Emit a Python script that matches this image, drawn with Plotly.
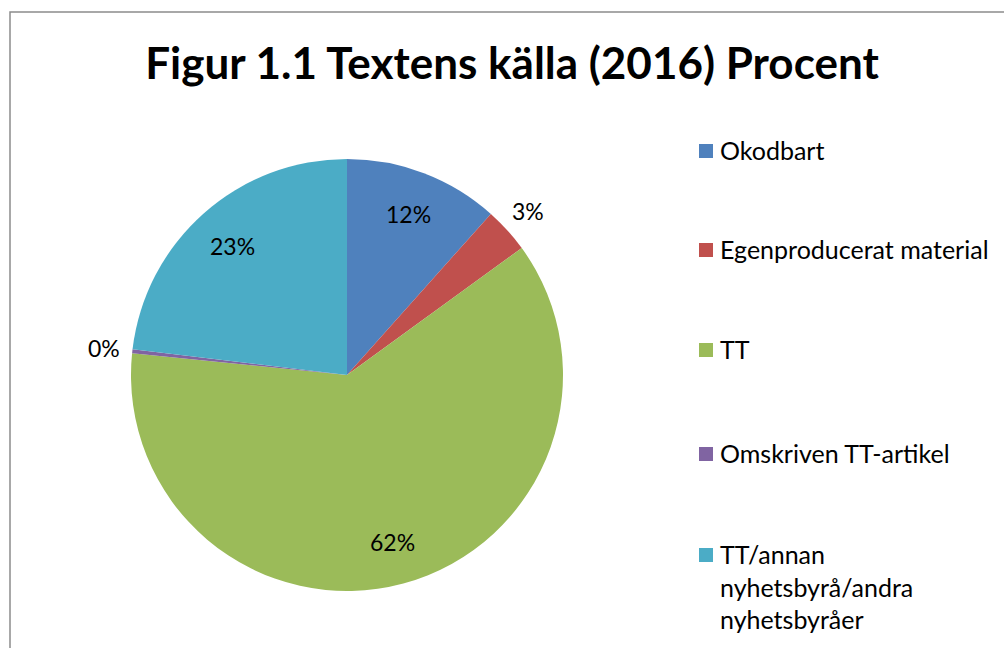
import math
import plotly.graph_objects as go

# data
labels = ["Okodbart", "Egenproducerat material", "TT", "Omskriven TT-artikel",
          "TT/annan nyhetsbyrå/andra nyhetsbyråer"]
legend_text = ["Okodbart", "Egenproducerat material", "TT", "Omskriven TT-artikel",
               "TT/annan<br>nyhetsbyrå/andra<br>nyhetsbyråer"]
values = [11.6, 3.4, 61.6, 0.3, 23.1]
colors = ["#4F81BD", "#C0504D", "#9BBB59", "#8064A2", "#4BACC6"]
label_inside = [True, False, True, False, True]

W, H = 1004, 648
FONT = "Lato, 'Open Sans', sans-serif"

# pie placement (pixels)
cx, cy, R = 347, 375, 216

fig = go.Figure(go.Pie(
    labels=labels,
    values=values,
    sort=False,
    direction="clockwise",
    rotation=0,
    marker=dict(colors=colors, line=dict(width=0)),
    textinfo="none",
    domain=dict(x=[(cx - R) / W, (cx + R) / W], y=[1 - (cy + R) / H, 1 - (cy - R) / H]),
    showlegend=False,
    hoverinfo="label+percent",
))

# percent labels, Excel "best fit" style: along the slice bisector
total = sum(values)
cum = 0
for v, inside in zip(values, label_inside):
    mid = (cum + v / 2) / total * 2 * math.pi
    cum += v
    r = R * (0.8 if inside else 1.13)
    px = cx + r * math.sin(mid)
    py = cy - r * math.cos(mid)
    fig.add_annotation(xref="paper", yref="paper", x=px / W, y=1 - py / H,
                       xanchor="center", yanchor="middle", showarrow=False,
                       text=f"{round(v / total * 100)}%",
                       font=dict(family=FONT, size=23, color="black"))

# hand made legend so the spacing matches the Excel one
leg_y = [151, 250, 350, 454, 555]
for lab, col, yy in zip(legend_text, colors, leg_y):
    fig.add_shape(type="rect", xref="paper", yref="paper",
                  x0=699 / W, x1=713 / W, y0=1 - (yy + 7) / H, y1=1 - (yy - 7) / H,
                  fillcolor=col, line=dict(width=0))
    fig.add_annotation(xref="paper", yref="paper", x=718 / W, y=1 - (yy - 18) / H,
                       xanchor="left", yanchor="top", align="left", showarrow=False,
                       text=lab, font=dict(family=FONT, size=25, color="black"))

# chart area border
fig.add_shape(type="rect", xref="paper", yref="paper",
              x0=10 / W, x1=1.02, y0=-0.02, y1=1 - 12 / H,
              line=dict(color="#8c8c8c", width=1.5), fillcolor="rgba(0,0,0,0)")

fig.update_layout(
    width=W, height=H,
    margin=dict(l=0, r=0, t=0, b=0),
    paper_bgcolor="white",
    plot_bgcolor="white",
    title=dict(text="<b>Figur 1.1 Textens källa (2016) Procent</b>",
               x=512 / W, xanchor="center", y=1 - 64 / H, yanchor="middle",
               yref="container", xref="container",
               font=dict(family=FONT, size=44, color="black")),
)

fig.write_html("out.html", config={"displayModeBar": False},
               post_script="document.body.style.margin='0';")
